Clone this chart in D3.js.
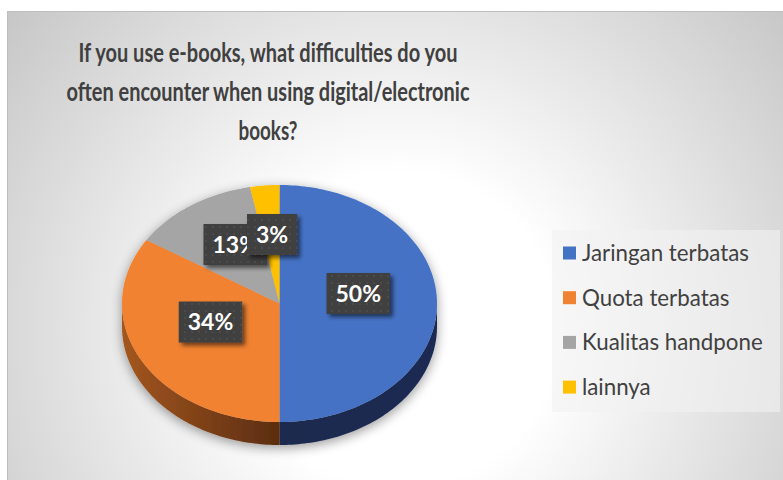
<!DOCTYPE html>
<html><head><meta charset="utf-8">
<script src="https://cdn.jsdelivr.net/npm/d3@7"></script>
<style>body{margin:0;background:#fff}svg{display:block}</style>
</head><body><svg id="c" width="783" height="480"></svg>
<script>
const categories = ["Jaringan terbatas", "Quota terbatas", "Kualitas handpone", "lainnya"];
const values = [50, 34, 13, 3];
const valueLabels = ["50%", "34%", "13%", "3%"];
const titleLines = ["If you use e-books, what difficulties do you", "often encounter when using digital/electronic", "books?"];
const titleWidths = [379, 403, 59];
const topColors = ["#4472C4", "#F08233", "#A5A5A5", "#FFC000"];
const sideColors = [["#1B2B52", "#1A2A4E"], ["#A3561F", "#5B2D10"], ["#6E6E6E", "#5A5A5A"], ["#A07800", "#806000"]];

const W = 783, H = 480;
const svg = d3.select("#c");
const defs = svg.append("defs");

// background gradient
const bg = defs.append("radialGradient").attr("id", "bg").attr("gradientUnits", "userSpaceOnUse")
  .attr("cx", 400).attr("cy", 330).attr("r", 520);
bg.append("stop").attr("offset", "0%").attr("stop-color", "#ffffff");
bg.append("stop").attr("offset", "30%").attr("stop-color", "#ffffff");
bg.append("stop").attr("offset", "100%").attr("stop-color", "#c4c4c4");

svg.append("rect").attr("x", 7.5).attr("y", 11.5).attr("width", W).attr("height", H)
  .attr("fill", "url(#bg)").attr("stroke", "#bdbdbd").attr("stroke-width", 1);

// filters
const sh = defs.append("filter").attr("id", "pieShadow").attr("x", "-20%").attr("y", "-20%").attr("width", "140%").attr("height", "140%");
sh.append("feGaussianBlur").attr("in", "SourceAlpha").attr("stdDeviation", 6).attr("result", "b");
sh.append("feOffset").attr("in", "b").attr("dx", 0).attr("dy", 3).attr("result", "o");
sh.append("feComponentTransfer").attr("in", "o").attr("result", "o2")
  .append("feFuncA").attr("type", "linear").attr("slope", 0.4);
const m1 = sh.append("feMerge"); m1.append("feMergeNode").attr("in", "o2"); m1.append("feMergeNode").attr("in", "SourceGraphic");

const lsh = defs.append("filter").attr("id", "lblShadow").attr("x", "-30%").attr("y", "-30%").attr("width", "160%").attr("height", "160%");
lsh.append("feGaussianBlur").attr("in", "SourceAlpha").attr("stdDeviation", 2).attr("result", "b");
lsh.append("feOffset").attr("in", "b").attr("dx", 3).attr("dy", 3).attr("result", "o");
lsh.append("feComponentTransfer").attr("in", "o").attr("result", "o2")
  .append("feFuncA").attr("type", "linear").attr("slope", 0.55);
const m2 = lsh.append("feMerge"); m2.append("feMergeNode").attr("in", "o2"); m2.append("feMergeNode").attr("in", "SourceGraphic");

const pat = defs.append("pattern").attr("id", "dots").attr("patternUnits", "userSpaceOnUse")
  .attr("width", 7).attr("height", 7);
pat.append("rect").attr("width", 7).attr("height", 7).attr("fill", "#404040");
pat.append("rect").attr("x", 2).attr("y", 2).attr("width", 2).attr("height", 2).attr("fill", "#4c4c4c");

// title
const title = svg.append("g").attr("font-family", "Lato, 'Open Sans', sans-serif").attr("font-weight", 700)
  .attr("fill", "#404040").attr("text-anchor", "middle");
title.selectAll("text").data(titleLines).join("text")
  .attr("x", 268).attr("y", (d, i) => 62 + i * 39).attr("font-size", 27.5)
  .attr("textLength", (d, i) => titleWidths[i]).attr("lengthAdjust", "spacingAndGlyphs")
  .text(d => d);

// pie geometry
const cx = 279.5, cy = 303.5, rx = 157.5, ry = 118.5, depth = 23;
const P = (a, r, dy) => [cx + rx * r * Math.sin(a), cy - ry * r * Math.cos(a) + (dy || 0)];
const arcs = d3.pie().sort(null).value(d => d)(values);

function arcPts(a0, a1, dy) {
  const n = Math.max(2, Math.ceil((a1 - a0) / 0.02));
  return d3.range(n + 1).map(i => P(a0 + (a1 - a0) * i / n, 1, dy));
}
const line = d3.line();

const pie = svg.append("g").attr("filter", "url(#pieShadow)");

// sides (front half only)
arcs.forEach((a, i) => {
  const s = Math.max(a.startAngle, Math.PI / 2), e = Math.min(a.endAngle, 3 * Math.PI / 2);
  if (e <= s) return;
  const pts = arcPts(s, e, 0).concat(arcPts(s, e, depth).reverse());
  const xs = pts.map(p => p[0]);
  const gid = "side" + i;
  const g = defs.append("linearGradient").attr("id", gid).attr("gradientUnits", "userSpaceOnUse")
    .attr("x1", d3.min(xs)).attr("x2", d3.max(xs)).attr("y1", 0).attr("y2", 0);
  const cols = sideColors[i];
  const outerLeft = (s + e) / 2 > Math.PI;
  g.append("stop").attr("offset", "0%").attr("stop-color", outerLeft ? cols[0] : cols[1]);
  g.append("stop").attr("offset", "100%").attr("stop-color", outerLeft ? cols[1] : cols[0]);
  pie.append("path").attr("d", line(pts) + "Z").attr("fill", `url(#${gid})`);
});

// tops
arcs.forEach((a, i) => {
  const pts = [[cx, cy]].concat(arcPts(a.startAngle, a.endAngle, 0));
  pie.append("path").attr("d", line(pts) + "Z").attr("fill", topColors[i]);
});

// data labels
const lbl = svg.append("g").attr("font-family", "Lato, 'Open Sans', sans-serif").attr("font-weight", 700);
arcs.forEach((a, i) => {
  const mid = (a.startAngle + a.endAngle) / 2;
  const [x, y] = P(mid, 0.5, -10);
  const g = lbl.append("g");
  const r = g.append("rect").attr("fill", "url(#dots)").attr("filter", "url(#lblShadow)");
  const t = g.append("text").attr("x", x).attr("y", y).attr("dy", "0.36em").attr("text-anchor", "middle")
    .attr("font-size", 23).attr("fill", "#ffffff").text(valueLabels[i]);
  const tw = t.node().getComputedTextLength();
  const bw = tw + 18, bh = 41;
  r.attr("x", x - bw / 2).attr("y", y - bh / 2).attr("width", bw).attr("height", bh);
});

// legend
const leg = svg.append("g");
leg.append("rect").attr("x", 552).attr("y", 230).attr("width", 228).attr("height", 182)
  .attr("fill", "#f2f2f2").attr("opacity", 0.6);
const items = leg.selectAll("g.it").data(categories).join("g").attr("class", "it")
  .attr("transform", (d, i) => `translate(563, ${253 + i * 44.7})`);
items.append("rect").attr("x", 0).attr("y", -6.5).attr("width", 13).attr("height", 13).attr("fill", (d, i) => topColors[i]);
const lt = items.append("text").attr("x", 19).attr("dy", "0.36em").attr("font-family", "Lato, 'Open Sans', sans-serif")
  .attr("font-size", 20).attr("fill", "#404040").text(d => d);
const lw = lt.nodes()[0].getComputedTextLength();
lt.attr("font-size", 20 * 167 / lw);
</script></body></html>
